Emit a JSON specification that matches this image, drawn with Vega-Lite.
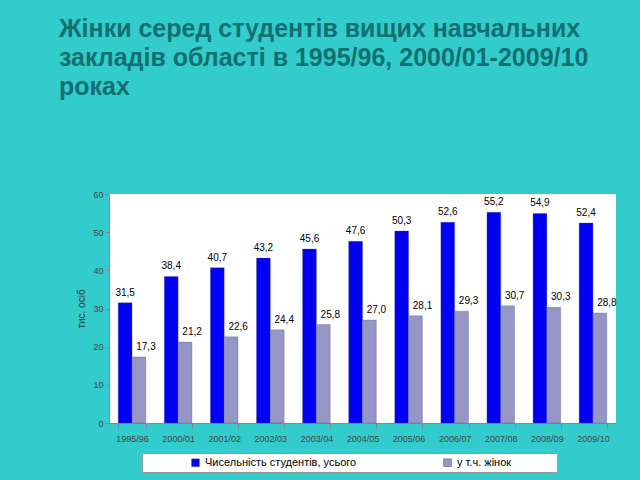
{
  "$schema": "https://vega.github.io/schema/vega-lite/v6.json",
  "width": 507,
  "height": 229,
  "autosize": {"type": "none"},
  "padding": {"left": 109, "top": 194, "right": 24, "bottom": 57},
  "background": "#33CCCC",
  "title": {
    "text": ["Жінки серед студентів вищих навчальних", "закладів області в 1995/96, 2000/01-2009/10", "роках"],
    "anchor": "start",
    "frame": "group",
    "dx": -50,
    "offset": 90,
    "font": "Liberation Sans",
    "fontSize": 25,
    "fontWeight": "bold",
    "color": "#127070",
    "lineHeight": 29
  },
  "data": {
    "values": [
      {"year": "1995/96", "series": "Чисельність студентів, усього", "value": 31.5},
      {"year": "2000/01", "series": "Чисельність студентів, усього", "value": 38.4},
      {"year": "2001/02", "series": "Чисельність студентів, усього", "value": 40.7},
      {"year": "2002/03", "series": "Чисельність студентів, усього", "value": 43.2},
      {"year": "2003/04", "series": "Чисельність студентів, усього", "value": 45.6},
      {"year": "2004/05", "series": "Чисельність студентів, усього", "value": 47.6},
      {"year": "2005/06", "series": "Чисельність студентів, усього", "value": 50.3},
      {"year": "2006/07", "series": "Чисельність студентів, усього", "value": 52.6},
      {"year": "2007/08", "series": "Чисельність студентів, усього", "value": 55.2},
      {"year": "2008/09", "series": "Чисельність студентів, усього", "value": 54.9},
      {"year": "2009/10", "series": "Чисельність студентів, усього", "value": 52.4},
      {"year": "1995/96", "series": "у т.ч. жінок", "value": 17.3},
      {"year": "2000/01", "series": "у т.ч. жінок", "value": 21.2},
      {"year": "2001/02", "series": "у т.ч. жінок", "value": 22.6},
      {"year": "2002/03", "series": "у т.ч. жінок", "value": 24.4},
      {"year": "2003/04", "series": "у т.ч. жінок", "value": 25.8},
      {"year": "2004/05", "series": "у т.ч. жінок", "value": 27.0},
      {"year": "2005/06", "series": "у т.ч. жінок", "value": 28.1},
      {"year": "2006/07", "series": "у т.ч. жінок", "value": 29.3},
      {"year": "2007/08", "series": "у т.ч. жінок", "value": 30.7},
      {"year": "2008/09", "series": "у т.ч. жінок", "value": 30.3},
      {"year": "2009/10", "series": "у т.ч. жінок", "value": 28.8}
    ]
  },
  "encoding": {
    "x": {
      "field": "year",
      "type": "nominal",
      "sort": null,
      "scale": {"paddingInner": 0.4, "paddingOuter": 0.2},
      "axis": {
        "title": null,
        "labelAngle": 0,
        "tickBand": "extent",
        "tickSize": 5,
        "domainColor": "#888888",
        "tickColor": "#888888",
        "labelFont": "Liberation Sans",
        "labelFontSize": 9,
        "labelColor": "#444444",
        "labelPadding": 6
      }
    },
    "xOffset": {
      "field": "series",
      "type": "nominal",
      "sort": null,
      "scale": {"domain": ["Чисельність студентів, усього", "у т.ч. жінок"], "paddingInner": 0, "paddingOuter": 0}
    },
    "y": {
      "field": "value",
      "type": "quantitative",
      "scale": {"domain": [0, 60], "nice": false},
      "axis": {
        "title": "тис. осіб",
        "values": [0, 10, 20, 30, 40, 50, 60],
        "grid": false,
        "tickSize": 4,
        "domainColor": "#888888",
        "tickColor": "#888888",
        "labelFont": "Liberation Sans",
        "labelFontSize": 9,
        "labelColor": "#444444",
        "labelPadding": 2,
        "titleFont": "Liberation Sans",
        "titleFontSize": 10,
        "titleFontWeight": "normal",
        "titleColor": "#333333",
        "titlePadding": 6
      }
    }
  },
  "layer": [
    {
      "mark": {"type": "bar", "stroke": "#555577", "strokeWidth": 0.3},
      "encoding": {
        "color": {
          "field": "series",
          "type": "nominal",
          "sort": null,
          "scale": {"domain": ["Чисельність студентів, усього", "у т.ч. жінок"], "range": ["#0000F5", "#9696C6"]},
          "legend": {
            "orient": "none",
            "legendX": 33,
            "legendY": 259,
            "direction": "horizontal",
            "title": " ",
            "titleOrient": "right",
            "titlePadding": 42,
            "symbolType": "square",
            "symbolSize": 60,
            "symbolOffset": 44,
            "symbolStrokeWidth": 0.5,
            "symbolStrokeColor": "#444466",
            "columnPadding": 41,
            "labelFont": "Liberation Sans",
            "labelFontSize": 11,
            "labelColor": "#000000",
            "labelLimit": 300,
            "fillColor": "#FFFFFF",
            "strokeColor": "#999999",
            "padding": 4
          }
        }
      }
    },
    {
      "transform": [{"filter": "datum.series == 'Чисельність студентів, усього'"}],
      "mark": {"type": "text", "baseline": "bottom", "dy": -5, "font": "Liberation Sans", "fontSize": 10, "color": "#000000"},
      "encoding": {"text": {"field": "value", "type": "quantitative", "format": ".1f"}}
    },
    {
      "transform": [{"filter": "datum.series == 'у т.ч. жінок'"}],
      "mark": {"type": "text", "baseline": "bottom", "dy": -5, "dx": 7, "font": "Liberation Sans", "fontSize": 10, "color": "#000000"},
      "encoding": {"text": {"field": "value", "type": "quantitative", "format": ".1f"}}
    }
  ],
  "config": {
    "locale": {"number": {"decimal": ",", "thousands": " ", "grouping": [3], "currency": ["", ""]}},
    "view": {"fill": "#FFFFFF", "stroke": null}
  }
}
